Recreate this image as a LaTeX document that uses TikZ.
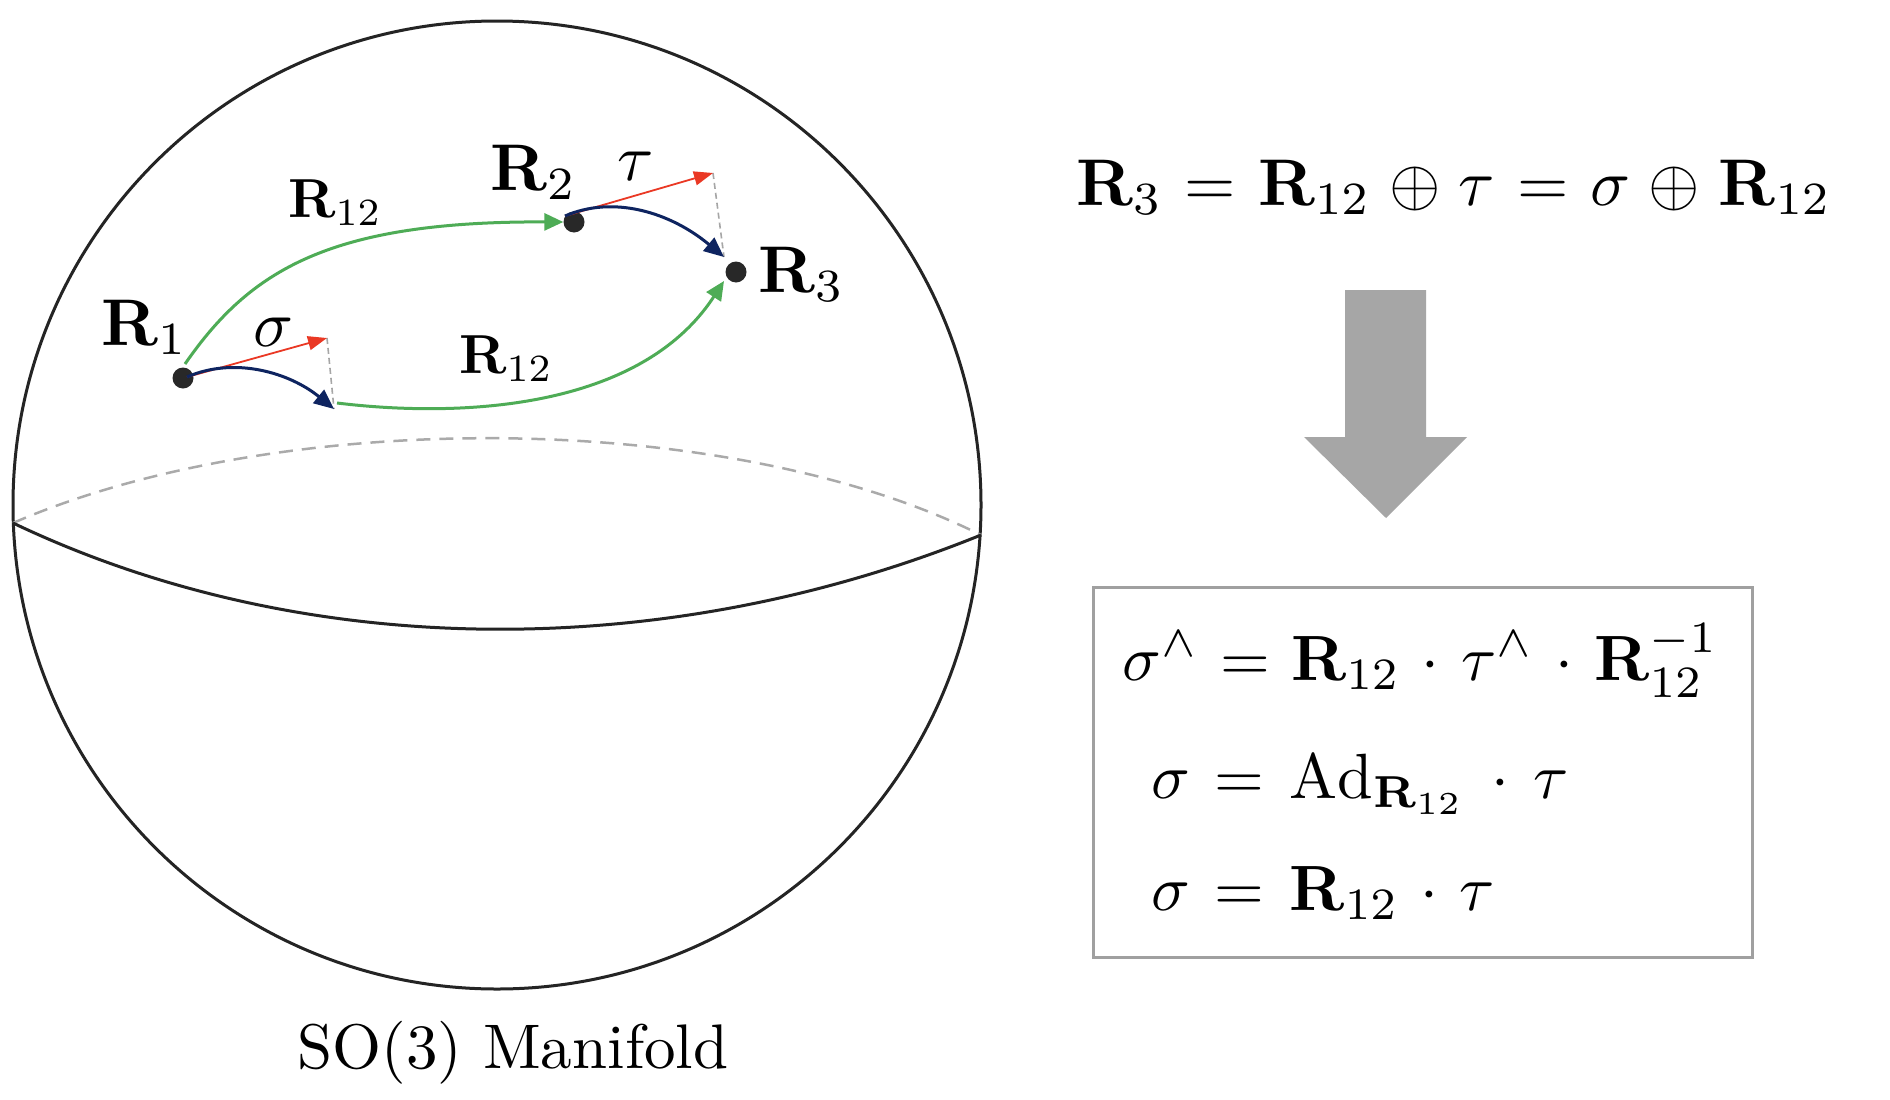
\documentclass[tikz,border=0pt]{standalone}
\usepackage{graphicx}
\usetikzlibrary{arrows.meta}
\definecolor{grn}{RGB}{78,172,86}
\definecolor{nvy}{RGB}{14,36,96}
\definecolor{rdd}{RGB}{234,56,36}
\definecolor{inkc}{RGB}{36,36,36}
\definecolor{dotc}{RGB}{40,40,40}
\definecolor{lgray}{RGB}{166,166,166}
\definecolor{bgray}{RGB}{160,160,160}
\definecolor{dgray}{RGB}{170,170,170}
\newcommand{\fsz}[2]{\scalebox{#1}{#2}}
\begin{document}
\begin{tikzpicture}[x=1pt,y=-1pt,
  dotn/.style={circle,fill=dotc,inner sep=0pt,minimum size=21pt},
  lbl/.style={anchor=base west,inner sep=0pt},
  garrow/.style={draw=grn,line width=3pt,-{Triangle[length=19pt,width=17pt]}},
  barrow/.style={draw=nvy,line width=3pt,-{Triangle[length=20pt,width=17pt]}},
  rarrow/.style={draw=rdd,line width=1.8pt,-{Triangle[length=19pt,width=14pt]}},
  guide/.style={draw=lgray,line width=1.6pt,dash pattern=on 6pt off 4pt},
]
\useasboundingbox (0,0) rectangle (1890,1100);
\fill[white] (0,0) rectangle (1890,1100);

% sphere
\coordinate (c) at (497,505);
\draw[inkc,line width=3pt] (c) circle[radius=484pt];
\coordinate (eqL) at (13,523);
\coordinate (eqR) at (981,535);
\draw[dgray,line width=2.5pt,dash pattern=on 14pt off 9pt] (eqL) .. controls (278,408) and (726,408) .. (eqR);
\draw[inkc,line width=3pt] (eqL) .. controls (300,660) and (660,665) .. (eqR);

% points
\node[dotn] (r1) at (183,378) {};
\node[dotn] (r2) at (574,222) {};
\node[dotn] (r3) at (736,272) {};
\node[lbl] (l1) at (101,345) {\fsz{6.6}{$\mathbf{R}_1$}};
\node[lbl] (l2) at (490,190) {\fsz{6.6}{$\mathbf{R}_2$}};
\node[lbl] (l3) at (758,292) {\fsz{6.6}{$\mathbf{R}_3$}};
\node[lbl] (l12a) at (288,217) {\fsz{5.5}{$\mathbf{R}_{12}$}};
\node[lbl] (l12b) at (459,373) {\fsz{5.5}{$\mathbf{R}_{12}$}};
\node[lbl] (ls) at (253,346) {\fsz{6.6}{$\sigma$}};
\node[lbl] (lt) at (617,180) {\fsz{6.6}{$\tau$}};

\coordinate (a1) at (187,377);
\coordinate (s1) at (327,338);
\coordinate (b1) at (334,409);
\coordinate (g1s) at (185,364);
\coordinate (g2s) at (337,403);
\coordinate (a2) at (565,216);
\coordinate (t2) at (713,173);
\coordinate (b2) at (724,257);
\coordinate (g2e) at (724,281);

\draw[guide] (s1) -- (b1);
\draw[guide] (t2) -- (b2);
\draw[garrow] (g1s) .. controls (250,270) and (330,221) .. (r2.west);
\draw[garrow] (g2s) .. controls (460,418) and (640,410) .. (g2e);
\draw[rarrow] (a1) -- (s1);
\draw[barrow] (a1) .. controls (235,356) and (290,373) .. (b1);
\draw[rarrow] (a2) -- (t2);
\draw[barrow] (a2) .. controls (613,195) and (670,212) .. (b2);

\node[anchor=base,inner sep=0pt] (cap) at (513,1068) {\fsz{6.3}{SO(3) Manifold}};

% right side
\node[lbl] (eq) at (1076,205) {\fsz{6.6}{\thickmuskip=6mu\medmuskip=5mu$\mathbf{R}_3=\mathbf{R}_{12}\oplus\tau=\sigma\oplus\mathbf{R}_{12}$}};

\fill[lgray] (1345,290) -- (1426,290) -- (1426,437) -- (1467,437) -- (1386,518) -- (1304,437) -- (1345,437) -- cycle;

\draw[bgray,line width=3pt] (1093,587) rectangle (1752,957);
\node[lbl] (e1) at (1122,680) {\fsz{6.4}{\thickmuskip=6mu\medmuskip=6mu$\sigma^{\wedge}=\mathbf{R}_{12}\cdot\tau^{\wedge}\cdot\mathbf{R}_{12}^{-1}$}};
\node[lbl] (e2) at (1151,798) {\fsz{6.4}{\thickmuskip=7mu\medmuskip=7mu$\sigma=\mathrm{Ad}_{\mathbf{R}_{12}}\cdot\tau$}};
\node[lbl] (e3) at (1151,910) {\fsz{6.4}{\thickmuskip=7mu\medmuskip=6mu$\sigma=\mathbf{R}_{12}\cdot\tau$}};
\end{tikzpicture}
\end{document}
